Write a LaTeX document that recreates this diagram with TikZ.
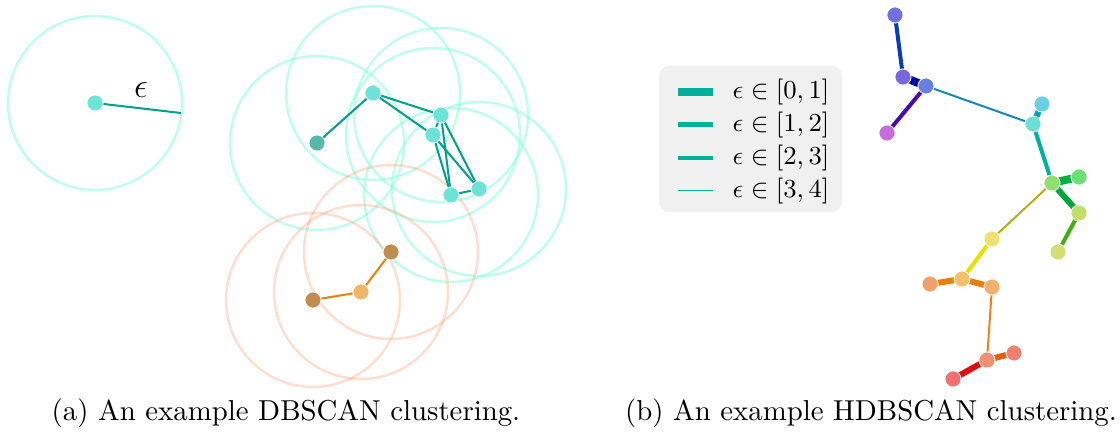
\documentclass[tikz,border=0pt]{standalone}
\definecolor{mint}{HTML}{7FFFD4}
\definecolor{peach}{HTML}{FFA07A}
\definecolor{tealline}{HTML}{00A08C}
\definecolor{legteal}{HTML}{00B09A}
\definecolor{cyanpt}{HTML}{6BE3D7}
\definecolor{darkpt}{HTML}{58B7AA}
\definecolor{brownpt}{HTML}{C08C50}
\definecolor{orangept}{HTML}{F0B46A}
\definecolor{orangeln}{HTML}{E88010}
\definecolor{legbg}{HTML}{F0F0F0}
% tree point colours
\definecolor{c1}{HTML}{7070E0}
\definecolor{c2}{HTML}{7868E0}
\definecolor{c3}{HTML}{6A80E0}
\definecolor{c4}{HTML}{C86AE0}
\definecolor{c5}{HTML}{6ACFE0}
\definecolor{c6}{HTML}{6AE0D8}
\definecolor{c7}{HTML}{90E070}
\definecolor{c8}{HTML}{6AE070}
\definecolor{c9}{HTML}{C0E068}
\definecolor{c10}{HTML}{D0E070}
\definecolor{c11}{HTML}{F0E070}
\definecolor{c12}{HTML}{F0C070}
\definecolor{c13}{HTML}{F0A070}
\definecolor{c14}{HTML}{F0B070}
\definecolor{c15}{HTML}{F09070}
\definecolor{c16}{HTML}{F08070}
\definecolor{c17}{HTML}{F07070}
% tree edge colours
\definecolor{e12}{HTML}{0A3CB4}
\definecolor{e23}{HTML}{0000A8}
\definecolor{e34}{HTML}{4A0AB0}
\definecolor{e36}{HTML}{1488B4}
\definecolor{e56}{HTML}{00A0B8}
\definecolor{e67}{HTML}{00B0A0}
\definecolor{e78}{HTML}{00B040}
\definecolor{e79}{HTML}{00A838}
\definecolor{e910}{HTML}{40B010}
\definecolor{e711}{HTML}{B0B010}
\definecolor{e1112}{HTML}{E8E000}
\definecolor{e1213}{HTML}{E88000}
\definecolor{e1214}{HTML}{E88010}
\definecolor{e1415}{HTML}{E88020}
\definecolor{e1516}{HTML}{E06010}
\definecolor{e1517}{HTML}{E01010}
\begin{document}
\begin{tikzpicture}[x=0.347pt,y=-0.347pt,
  dot/.style={circle,inner sep=0pt,minimum size=5.6pt,draw=white,line width=0.3pt,fill=#1},
  reach/.style={draw=#1,draw opacity=0.5,line width=0.85pt},
  reachb/.style={draw=#1,draw opacity=0.36,line width=0.85pt},
  link/.style={draw=#1,line width=0.7pt},
  wA/.style={line width=2.78pt},
  wB/.style={line width=2.08pt},
  wC/.style={line width=1.39pt},
  wD/.style={line width=0.69pt},
  captext/.style={anchor=base,font=\fontsize{10}{12}\selectfont},
  legtext/.style={anchor=base west,inner sep=0pt,font=\fontsize{9}{11}\selectfont}]
\useasboundingbox (0,0) rectangle (1120,440);

% ---------- (a) DBSCAN ----------
% single point with its epsilon neighbourhood
\draw[reach=mint] (95,103) circle[radius=87];
\node[dot=cyanpt] (s) at (95,103) {};
\coordinate (rim) at (181,113);
\draw[link=tealline] (s) -- (rim);
\node[font=\fontsize{12}{14}\selectfont,inner sep=0pt] (eps) at (141,90) {$\epsilon$};

% neighbourhoods of the clustered points
\foreach \p in {(373,93),(317,143),(441,115),(433,135),(451,195),(479,189)}
  \draw[reach=mint] \p circle[radius=87];
\foreach \p in {(391,252),(361,292),(313,300)}
  \draw[reachb=peach] \p circle[radius=87];

\node[dot=cyanpt] (A) at (373,93) {};
\node[dot=darkpt] (B) at (317,143) {};
\node[dot=cyanpt] (C) at (441,115) {};
\node[dot=cyanpt] (D) at (433,135) {};
\node[dot=cyanpt] (E) at (451,195) {};
\node[dot=cyanpt] (F) at (479,189) {};
\node[dot=brownpt] (G) at (391,252) {};
\node[dot=orangept] (H) at (361,292) {};
\node[dot=brownpt] (I) at (313,300) {};

\draw[link=tealline] (A) -- (B);
\draw[link=tealline] (A) -- (C);
\draw[link=tealline] (A) -- (D);
\draw[link=tealline] (C) -- (D);
\draw[link=tealline] (C) -- (E);
\draw[link=tealline] (C) -- (F);
\draw[link=tealline] (D) -- (E);
\draw[link=tealline] (D) -- (F);
\draw[link=tealline] (E) -- (F);
\draw[link=orangeln] (G) -- (H);
\draw[link=orangeln] (H) -- (I);

\node[captext] (capa) at (286,420) {(a) An example DBSCAN clustering.};

% ---------- legend ----------
\node[draw=none,fill=legbg,rounded corners=3.5pt,minimum width=63.5pt,minimum height=50.7pt,inner sep=0pt] (leg) at (750.5,139) {};
\draw[legteal,wA] (678,92) -- (713,92);
\draw[legteal,wB] (678,124.5) -- (713,124.5);
\draw[legteal,wC] (678,158) -- (713,158);
\draw[legteal,wD] (678,190.5) -- (713,190.5);
\node[legtext] (l1) at (732,98.5) {$\epsilon\in[0,1]$};
\node[legtext] (l2) at (732,131) {$\epsilon\in[1,2]$};
\node[legtext] (l3) at (732,164.5) {$\epsilon\in[2,3]$};
\node[legtext] (l4) at (732,197) {$\epsilon\in[3,4]$};

% ---------- (b) HDBSCAN ----------
\coordinate (P1) at (895,15);
\coordinate (P2) at (903,77);
\coordinate (P3) at (926,86);
\coordinate (P4) at (887,133);
\coordinate (P5) at (1042,104);
\coordinate (P6) at (1033,124);
\coordinate (P7) at (1052,183);
\coordinate (P8) at (1079,177);
\coordinate (P9) at (1079,213);
\coordinate (P10) at (1058,252);
\coordinate (P11) at (992,239);
\coordinate (P12) at (962,279);
\coordinate (P13) at (930,284);
\coordinate (P14) at (992,287);
\coordinate (P15) at (987,360);
\coordinate (P16) at (1014,353);
\coordinate (P17) at (953,379);

% minimum spanning tree, width by merge distance
\draw[wC,e12] (P1) -- (P2);
\draw[wA,e23] (P2) -- (P3);
\draw[wC,e34] (P3) -- (P4);
\draw[wD,e36] (P3) -- (P6);
\draw[wB,e56] (P5) -- (P6);
\draw[wC,e67] (P6) -- (P7);
\draw[wA,e78] (P7) -- (P8);
\draw[wB,e79] (P7) -- (P9);
\draw[wC,e910] (P9) -- (P10);
\draw[wD,e711] (P7) -- (P11);
\draw[wC,e1112] (P11) -- (P12);
\draw[wB,e1213] (P12) -- (P13);
\draw[wB,e1214] (P12) -- (P14);
\draw[wD,e1415] (P14) -- (P15);
\draw[wB,e1516] (P15) -- (P16);
\draw[wB,e1517] (P15) -- (P17);

\foreach \k in {1,...,17}
  \node[dot=c\k] (n\k) at (P\k) {};

\node[captext] (capb) at (871,420) {(b) An example HDBSCAN clustering.};
\end{tikzpicture}
\end{document}
